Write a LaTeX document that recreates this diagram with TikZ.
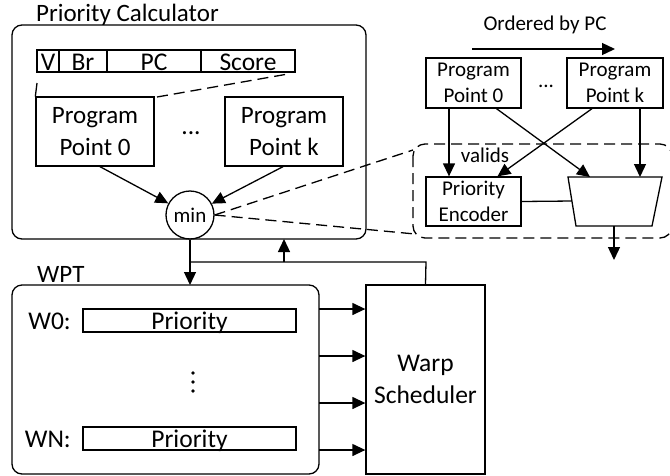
\documentclass[tikz,border=0pt]{standalone}
\usepackage{fontspec}
\setmainfont{Carlito}
\usetikzlibrary{arrows.meta}
\tikzset{
  bx/.style={draw, line width=1.3pt, inner sep=0pt, align=center},
  rbx/.style={draw, line width=1.3pt, rounded corners=10pt},
  arr/.style={line width=1.3pt, -{Triangle[length=13pt,width=12pt]}},
  ln/.style={line width=1.3pt},
  dsh/.style={line width=1.3pt, dash pattern=on 11pt off 6pt},
  fbig/.style={font=\fontsize{25.5}{32}\selectfont},
  fpp/.style={font=\fontsize{25}{32}\selectfont},
  ftitle/.style={font=\fontsize{25}{30}\selectfont},
  fsm/.style={font=\fontsize{21}{26}\selectfont},
  fmin/.style={font=\fontsize{21}{24}\selectfont},
  fld/.style={bx, fbig, minimum height=22pt, text height=18pt, text depth=0pt},
  prb/.style={bx, fbig, minimum width=213pt, minimum height=23pt, text height=17pt, text depth=0pt},
}
\begin{document}
\begin{tikzpicture}[x=1pt,y=-1pt]
\useasboundingbox (0,0) rectangle (670,475);
% Priority Calculator
\draw[rbx] (12,25) rectangle (366,239);
\node[ftitle, anchor=base west, inner sep=0pt] (pctitle) at (36,21) {Priority Calculator};
\node[fld, minimum width=22pt] (rv) at (48,61) {V};
\node[fld, minimum width=48pt] (rbr) at (83,61) {Br};
\node[fld, minimum width=94pt] (rpc) at (154,61) {PC};
\node[fld, minimum width=94pt] (rsc) at (248,61) {Score};
\node[bx, fpp, minimum width=118pt, minimum height=69pt] (pp0) at (95,131.5) {Program\\Point 0};
\node[bx, fpp, minimum width=118pt, minimum height=69pt] (ppk) at (284,131.5) {Program\\Point k};
\node[fbig, inner sep=0pt] (dots1) at (191,133) {...};
\node[draw, circle, line width=1.3pt, minimum size=48pt, inner sep=0pt, fmin] (min) at (190,215) {min};
\coordinate (tick) at (37,83);
\draw[ln] (tick) -- (pp0.north west);
\coordinate (scoreend) at (288,74);
\coordinate (pp0ne) at (157,97);
\draw[dsh] (pp0ne) -- (scoreend);
\draw[arr] ([xshift=5pt]pp0.south) -- (min);
\draw[arr] ([xshift=-1pt]ppk.south) -- (min);
% right detail
\node[fsm, inner sep=0pt] (ord) at (545,25) {Ordered by PC};
\coordinate (ordA) at (472,49);
\coordinate (ordB) at (615,49);
\draw[arr] (ordA) -- (ordB);
\node[bx, fsm, minimum width=95pt, minimum height=50pt] (rpp0) at (473.5,83) {Program\\Point 0};
\node[bx, fsm, minimum width=96pt, minimum height=50pt] (rppk) at (615,83) {Program\\Point k};
\node[fsm, inner sep=0pt] (dots2) at (546,86) {...};
\node[bx, fsm, minimum width=95pt, minimum height=49pt] (penc) at (473.5,201.5) {Priority\\Encoder};
\coordinate (mtl) at (568,177);
\coordinate (mtr) at (662,177);
\coordinate (mbr) at (652,226);
\coordinate (mbl) at (576,226);
\draw[ln] (mtl) -- (mtr) -- (mbr) -- (mbl) -- cycle;
\coordinate (mleft) at (572,201);
\coordinate (mout) at (614,226);
\coordinate (moutend) at (614,260);
\coordinate (mtin1) at (590,177);
\coordinate (mtin2) at (640,177);
\node[fmin, inner sep=0pt] (valids) at (485,155) {valids};
\draw[arr] ([xshift=-24.5pt]rpp0.south) -- ([xshift=-24.5pt]penc.north);
\draw[arr] ([xshift=23pt]rpp0.south) -- (mtin1);
\draw[arr] ([xshift=-23pt]rppk.south) -- ([xshift=24pt]penc.north);
\draw[arr] ([xshift=25pt]rppk.south) -- (mtin2);
\draw[ln] (penc.east) -- (mleft);
\draw[arr] (mout) -- (moutend);
\draw[dsh, rounded corners=12pt] (413,144) rectangle (672,238);
\coordinate (dA) at (413,150);
\coordinate (dB) at (415,234);
\draw[dsh] (min.east) -- (dA);
\draw[dsh] (min.east) -- (dB);
% WPT
\draw[rbx] (12,285) rectangle (319,474);
\node[ftitle, anchor=base west, inner sep=0pt] (wpttitle) at (37,282) {WPT};
\node[prb] (pr0) at (189.5,320.5) {Priority};
\node[prb] (prn) at (189.5,438.5) {Priority};
\node[fbig, anchor=base east, inner sep=0pt] (w0) at (71,329) {W0:};
\node[fbig, anchor=base east, inner sep=0pt] (wn) at (71,447) {WN:};
\fill (193,373) circle (1.9pt) (193,382) circle (1.9pt) (193,391) circle (1.9pt);
\node[bx, fbig, minimum width=119pt, minimum height=189pt] (ws) at (425.5,379.5) {Warp\\Scheduler};
\coordinate (split) at (190,262);
\coordinate (upx) at (284,262);
\coordinate (upend) at (284,239);
\draw[arr] (min.south) -- (190,285);
\draw[ln] (split) -- (426,262) -- (ws.north);
\draw[arr] (upx) -- (upend);
\foreach \yy in {309,356,403,450} {
  \draw[arr] (319,\yy) -- (ws.west |- 0,\yy);
}
\end{tikzpicture}
\end{document}
